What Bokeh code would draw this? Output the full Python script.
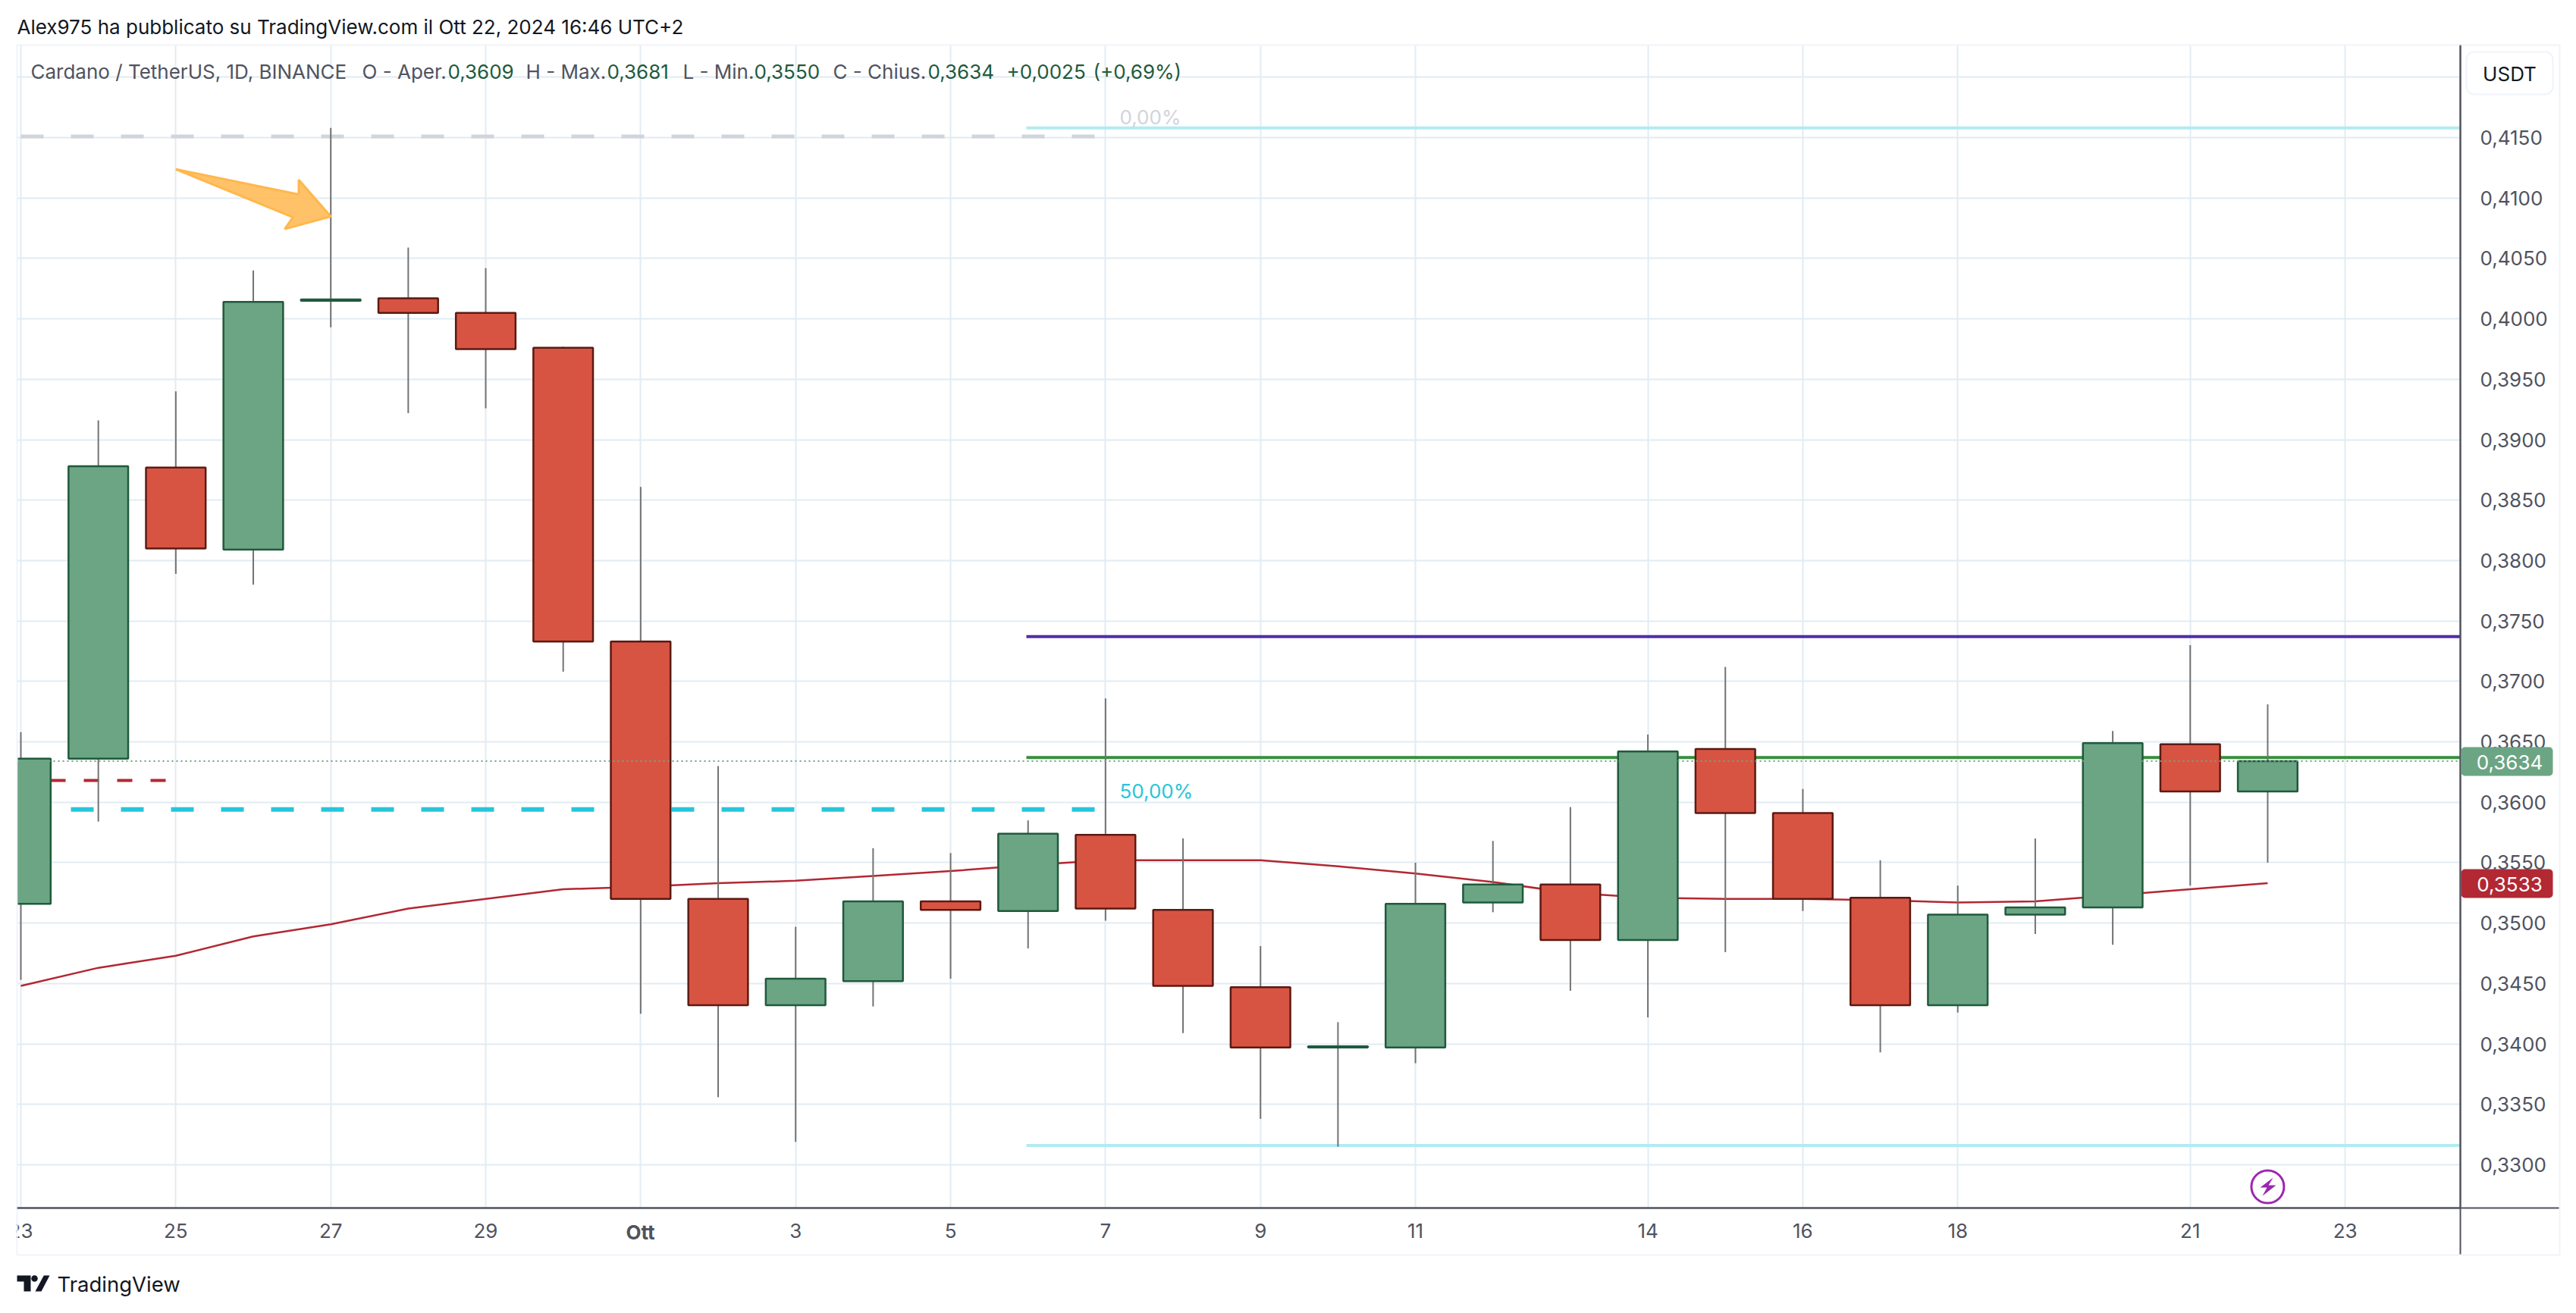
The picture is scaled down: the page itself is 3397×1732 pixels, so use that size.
import numpy as np
from bokeh.plotting import figure
from bokeh.embed import file_html
from bokeh.resources import INLINE
from bokeh.core.properties import value
from bokeh.models import ColumnDataSource, FixedTicker, CustomJSTickFormatter, GridBox

# ---------- data ----------
days = list(range(30))  # 0 = 23 Sep, 8 = 1 Oct, 29 = 22 Oct
opens = [.3516,.3636,.3877,.3809,.4015,.4017,.4005,.3976,.3733,.3520,.3432,.3452,.3518,.3510,.3573,.3511,
         .3447,.3397,.3397,.3517,.3532,.3486,.3644,.3591,.3521,.3432,.3507,.3513,.3648,.3609]
closes = [.3636,.3878,.3810,.4014,.4016,.4005,.3975,.3733,.3520,.3432,.3454,.3518,.3511,.3574,.3512,.3448,
          .3397,.3398,.3516,.3532,.3486,.3642,.3591,.3520,.3432,.3507,.3513,.3649,.3609,.3634]
highs = [.3658,.3916,.3940,.4040,.4158,.4059,.4042,.3977,.3861,.3630,.3497,.3562,.3558,.3585,.3686,.3570,
         .3481,.3418,.3550,.3568,.3596,.3656,.3712,.3611,.3552,.3531,.3570,.3659,.3730,.3681]
lows = [.3453,.3584,.3789,.3780,.3993,.3922,.3926,.3708,.3425,.3356,.3319,.3431,.3454,.3479,.3502,.3409,
        .3338,.3315,.3384,.3509,.3444,.3422,.3476,.3510,.3393,.3426,.3491,.3482,.3531,.3550]
ma = [.3448,.3463,.3473,.3489,.3499,.3512,.3520,.3528,.3530,.3533,.3535,.3539,.3543,.3548,.3552,.3552,
      .3552,.3547,.3541,.3534,.3525,.3521,.3520,.3520,.3519,.3517,.3518,.3523,.3528,.3533]

x_tick_days = [0, 2, 4, 6, 8, 10, 12, 14, 16, 18, 21, 23, 25, 28, 30]
x_tick_labels = ["23", "25", "27", "29", "", "3", "5", "7", "9", "11", "14", "16", "18", "21", "23"]
y_ticks = [0.33, 0.335, 0.34, 0.345, 0.35, 0.355, 0.36, 0.365, 0.37, 0.375, 0.38, 0.385, 0.39, 0.395, 0.40,
           0.405, 0.41, 0.415]
y_grid_ticks = y_ticks + [0.42]

fib_0, fib_50, fib_100 = 0.4158, 0.3594, 0.3316
level_gray, level_red = 0.4151, 0.3618
level_green, level_purple = 0.3637, 0.3737
last_close, last_ma = 0.3634, 0.3533

arrow_days = [2.0, 3.587, 3.587, 4.0, 3.406, 3.512]
arrow_prices = [.41238, .4103, .4115, .40848, .40743, .40841]

# ---------- palette ----------
UP, UP_LINE = "#6ca584", "#1f5a3c"
DOWN, DOWN_LINE = "#d85442", "#5b1a13"
WICK = "#737373"
GRID = "#e1ecf3"
AXIS = "#50535e"
INK = "#131722"
FONT = "Inter"

# frame in page pixels
L, R, T, B = 22, 3244, 59, 1593
W, H = 3390, 1725
PX_DAY, PX_UNIT = 102.17, 15941.0


def day_at(px):
    return (px - 27) / PX_DAY


def price_at(py):
    return 0.415 - (py - 181) / PX_UNIT


p = figure(width=W, height=H, output_backend="svg", toolbar_location=None,
           x_range=(day_at(L), day_at(R)), y_range=(price_at(B), price_at(T)),
           y_axis_location="right", min_border_left=L, min_border_right=W - R,
           min_border_top=T, min_border_bottom=H - B, background_fill_color="white",
           border_fill_color="white", outline_line_color=None, frame_align=False)

# axes and grid
ax = p.xaxis[0]
ax.ticker = FixedTicker(ticks=x_tick_days)
ax.major_label_overrides = dict(zip(x_tick_days, x_tick_labels))
ay = p.yaxis[0]
ay.ticker = FixedTicker(ticks=y_ticks)
ay.formatter = CustomJSTickFormatter(code="return tick.toFixed(4).replace('.', ',');")
for a, standoff in ((ax, 14), (ay, 20)):
    a.major_tick_line_color = None
    a.minor_tick_line_color = None
    a.axis_line_color = AXIS
    a.axis_line_width = 2
    a.major_label_text_font = FONT
    a.major_label_text_font_size = "26px"
    a.major_label_text_color = AXIS
    a.major_label_standoff = standoff
p.xgrid[0].ticker = FixedTicker(ticks=x_tick_days)
p.ygrid[0].ticker = FixedTicker(ticks=y_grid_ticks)
for g in (p.xgrid[0], p.ygrid[0]):
    g.grid_line_color = GRID
    g.grid_line_width = 2

# levels behind the candles
end_short = day_at(1443)
start_long = day_at(1353)
end_long = day_at(R)
p.line([0, end_short], [level_gray] * 2, line_color="#d1d4dc", line_width=5, line_dash="30 36")
p.line([start_long, end_long], [fib_0] * 2, line_color="#b2ebf2", line_width=4)
p.line([0, end_short], [fib_50] * 2, line_color="#26c6da", line_width=6, line_dash="30 36")
p.line([start_long, end_long], [fib_100] * 2, line_color="#b2ebf2", line_width=4)
p.line([start_long, end_long], [level_purple] * 2, line_color="#512da8", line_width=4)
p.line([start_long, end_long], [level_green] * 2, line_color="#388e3c", line_width=4)
p.line([day_at(L), day_at(218)], [level_red] * 2, line_color="#b22833", line_width=4, line_dash="20 24")
p.line(days, ma, line_color="#b22833", line_width=2.5)

# candles
src = ColumnDataSource(dict(
    x=days, low=lows, high=highs,
    top=[max(o, c) for o, c in zip(opens, closes)],
    bottom=[min(o, c) for o, c in zip(opens, closes)],
    fill=[UP if c >= o else DOWN for o, c in zip(opens, closes)],
    edge=[UP_LINE if c >= o else DOWN_LINE for o, c in zip(opens, closes)],
))
p.segment("x", "low", "x", "high", source=src, line_color=WICK, line_width=2)
p.vbar("x", 0.77, "top", "bottom", source=src, fill_color="fill", line_color="edge", line_width=2.5)

# last-price dotted line on top of the candles
p.line([day_at(L), end_long], [last_close] * 2, line_color="#6ca584", line_width=2, line_dash="2 4")

# arrow drawing
p.patch(arrow_days, arrow_prices, fill_color="#ffb74d", fill_alpha=0.85, line_color="#ffb74d", line_width=3)

# lightning badge
p.scatter([29], [price_at(1565)], marker="circle", size=43, fill_color=None, line_color="#9c27b0", line_width=3)
bolt_px = [(2997, 1553), (2980, 1566), (2989, 1566), (2983, 1577), (3001, 1563), (2991, 1563)]
p.patch([day_at(a) for a, _ in bolt_px], [price_at(b) for _, b in bolt_px], fill_color="#9c27b0", line_color=None)

# ---------- page-pixel layer for everything that sits outside the chart's frame ----------
o = figure(width=W, height=H, output_backend="svg", toolbar_location=None,
           x_range=(0, W), y_range=(H, 0), x_axis_location=None, y_axis_location=None,
           min_border=0, background_fill_color=None, border_fill_color=None, outline_line_color=None,
           frame_align=False)
o.grid.visible = False

TEXT_DY = -8  # the text glyph sits this much lower than the requested baseline


def text(s, px, py, color=INK, size=26, style="normal", align="left"):
    o.text([px], [py + TEXT_DY], text=[s], text_color=color, text_font=value(FONT), text_font_size=f"{size}px",
           text_font_style=style, text_align=align, text_baseline="alphabetic")


def box(left, right, top, bottom, fill=None, line=None, radius=0, lw=2):
    o.quad(left=[left], right=[right], top=[top], bottom=[bottom], fill_color=fill, line_color=line,
           line_width=lw, border_radius=radius)


# hide the part of the first tick label that runs past the chart's left edge
box(0, L - 1, 1600, 1650, fill="white")

# outer frame and crisp axis rules, extended to the frame
box(L, 3375, T, 1655, line="#f0f3fa")
box(R - 1, R + 1, T, 1654, fill=AXIS)
box(L, 3374, B - 1, B + 1, fill=AXIS)

# header and drawings' labels
text("Alex975 ha pubblicato su TradingView.com il Ott 22, 2024 16:46 UTC+2", 22, 43)
LEG, VAL = AXIS, "#1f5a3c"
for s, px, c in [("Cardano / TetherUS, 1D, BINANCE", 40, LEG), ("O - Aper.", 477, LEG), ("0,3609", 590, VAL),
                 ("H - Max.", 693, LEG), ("0,3681", 800, VAL), ("L - Min.", 900, LEG), ("0,3550", 994, VAL),
                 ("C - Chius.", 1098, LEG), ("0,3634", 1223, VAL), ("+0,0025", 1327, VAL), ("(+0,69%)", 1441, VAL)]:
    text(s, px, 102, color=c)
text("0,00%", 1476, 162, color="#d1d4dc")
text("50,00%", 1476, 1051, color="#26c6da")
text("Ott", 844, 1633, color=AXIS, style="bold", align="center")

# USDT button
box(3252, 3366, 68, 124, fill="white", line="#f0f3fa", radius=10)
text("USDT", 3309, 105, align="center")

# price tags
box(3245, 3366, 985, 1023, fill="#6ca584", radius=5)
text("0,3634", 3309, 1013, color="white", align="center")
box(3245, 3366, 1146, 1184, fill="#b22833", radius=5)
text("0,3533", 3309, 1174, color="white", align="center")

# footer logo
o.patch([22, 40, 40, 31, 31, 22], [1682, 1682, 1703, 1703, 1690, 1690], fill_color=INK, line_color=None)
o.scatter([45], [1686], marker="circle", size=8.5, fill_color=INK, line_color=None)
o.patch([57.3, 65, 54, 46], [1682, 1682, 1703, 1703], fill_color=INK, line_color=None)
text("TradingView", 75, 1701, size=27.5)

root = GridBox(children=[(p, 0, 0), (o, 0, 0)])
open("out.html", "w").write(file_html(root, INLINE))
